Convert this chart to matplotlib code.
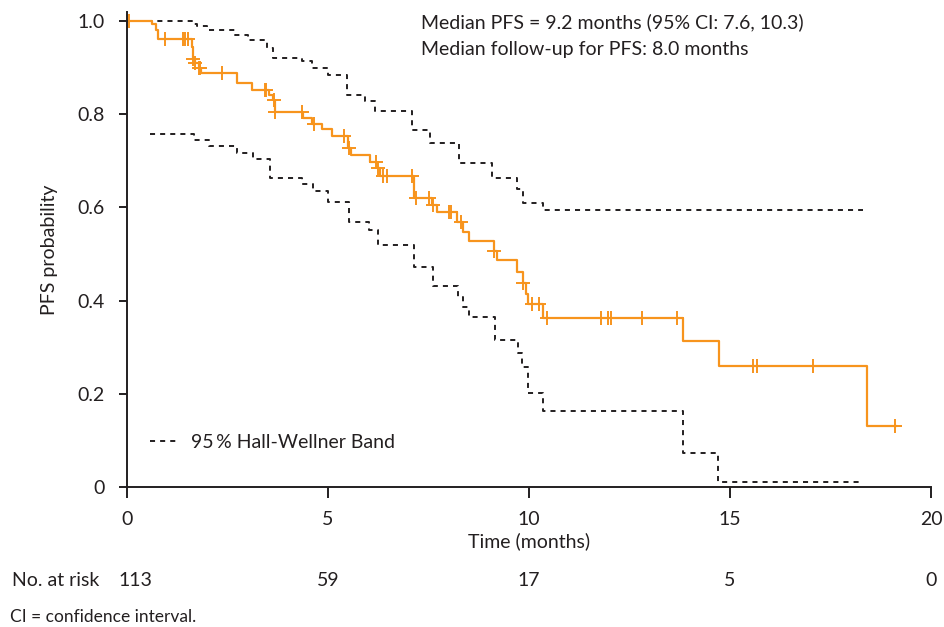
import numpy as np
import matplotlib
matplotlib.use("Agg")
import matplotlib.pyplot as plt
from matplotlib.lines import Line2D

plt.rcParams['font.family'] = ['Lato', 'DejaVu Sans']

# Kaplan-Meier step curve (time at which level starts, survival level)
km_t = [0.0, 0.62, 0.71, 0.76, 1.61, 1.64, 1.69, 1.78, 1.85, 2.73, 3.10, 3.54, 3.64, 3.68,
        4.39, 4.60, 4.85, 5.09, 5.49, 5.57, 6.04, 6.21, 6.29, 7.14, 7.58, 7.70, 8.22, 8.36,
        8.50, 9.13, 9.20, 9.69, 9.84, 9.93, 9.98, 10.36, 13.82, 14.73, 18.40]
km_s = [1.000, 0.993, 0.981, 0.962, 0.944, 0.918, 0.909, 0.899, 0.888, 0.866, 0.852, 0.841,
        0.830, 0.805, 0.792, 0.778, 0.767, 0.753, 0.727, 0.712, 0.698, 0.684, 0.667, 0.620,
        0.604, 0.589, 0.569, 0.546, 0.528, 0.506, 0.486, 0.462, 0.437, 0.415, 0.392, 0.362,
        0.313, 0.260, 0.131]
km_end = 19.12

# Censored observations (months)
cens_t = [0.05, 0.94, 1.40, 1.45, 1.51, 1.65, 1.70, 1.79, 1.82, 2.36, 3.43, 3.47, 3.66, 3.69,
          4.36, 4.64, 5.40, 5.53, 6.19, 6.25, 6.36, 6.46, 7.08, 7.18, 7.52, 7.60, 8.02, 8.05,
          8.31, 9.14, 9.86, 10.08, 10.25, 10.44, 11.79, 11.97, 12.04, 12.80, 13.67, 15.58,
          15.66, 17.07, 19.10]

# 95% Hall-Wellner band
up_t = [0.0, 1.61, 1.74, 2.00, 2.69, 3.02, 3.48, 3.64, 4.35, 4.60, 5.00, 5.47, 5.92, 6.17,
        7.08, 7.54, 8.25, 9.07, 9.69, 9.85, 10.36]
up_s = [1.000, 0.993, 0.988, 0.981, 0.970, 0.959, 0.941, 0.920, 0.913, 0.899, 0.884, 0.841,
        0.827, 0.807, 0.766, 0.737, 0.694, 0.663, 0.640, 0.609, 0.594]
lo_t = [0.57, 1.67, 2.05, 2.73, 3.14, 3.56, 4.35, 4.62, 5.00, 5.52, 6.03, 6.25, 7.14, 7.60,
        8.24, 8.37, 8.50, 9.15, 9.72, 9.83, 9.98, 10.36, 13.82, 14.71]
lo_s = [0.757, 0.745, 0.732, 0.716, 0.703, 0.662, 0.650, 0.636, 0.611, 0.568, 0.552, 0.519,
        0.473, 0.432, 0.408, 0.387, 0.364, 0.315, 0.287, 0.258, 0.201, 0.164, 0.072, 0.011]
band_end = 18.3

risk_t = [0, 5, 10, 15, 20]
risk_n = ['113', '59', '17', '5', '0']

xticks = [0, 5, 10, 15, 20]
yticks = [0, 0.2, 0.4, 0.6, 0.8, 1.0]
ytick_labels = ['0', '0.2', '0.4', '0.6', '0.8', '1.0']

orange = '#F7941D'
dark = '#231F20'
fs = 14

fig = plt.figure(figsize=(9.44, 6.27), dpi=100)
ax = fig.add_axes([127/944, 1 - 487/627, 804/944, 475/627])

dash = (0, (2.6, 2.6))
ax.step(up_t + [band_end], up_s + [up_s[-1]], where='post', color=dark, lw=1.4, linestyle=dash)
ax.step(lo_t + [band_end], lo_s + [lo_s[-1]], where='post', color=dark, lw=1.4, linestyle=dash)

ax.step(km_t + [km_end], km_s + [km_s[-1]], where='post', color=orange, lw=1.6)
km_t_arr = np.array(km_t)
km_s_arr = np.array(km_s)
idx = np.searchsorted(km_t_arr, np.array(cens_t), side='right') - 1
ax.plot(cens_t, km_s_arr[idx], linestyle='none', marker='+', color=orange,
        markersize=10, mew=1.4)

ax.set_xlim(0, 20)
ax.set_ylim(0, 1.019)
ax.set_xticks(xticks)
ax.set_xticklabels([str(v) for v in xticks])
ax.set_yticks(yticks)
ax.set_yticklabels(ytick_labels)
for s in ['top', 'right']:
    ax.spines[s].set_visible(False)
for s in ['left', 'bottom']:
    ax.spines[s].set_color(dark)
    ax.spines[s].set_linewidth(1.4)
ax.tick_params(axis='x', direction='out', length=8, width=1.4, color=dark,
               labelsize=fs, labelcolor=dark, pad=9)
ax.tick_params(axis='y', direction='out', length=6, width=1.4, color=dark,
               labelsize=fs, labelcolor=dark, pad=10)
ax.set_xlabel('Time (months)', fontsize=fs, color=dark, labelpad=3)
ax.set_ylabel('PFS probability', fontsize=fs, color=dark, labelpad=14)

handle = Line2D([], [], color=dark, lw=1.4, linestyle=dash)
ax.legend([handle], ['95\u2009% Hall-Wellner Band'], loc='center left',
          bbox_to_anchor=(0.0286, 0.0947), frameon=False, fontsize=fs,
          handlelength=1.45, handletextpad=0.65, borderpad=0, borderaxespad=0,
          labelcolor=dark)

fig.text(421/944, 1 - 22/627, 'Median PFS = 9.2 months (95% CI: 7.6, 10.3)',
         fontsize=fs, color=dark, ha='left', va='center')
fig.text(421/944, 1 - 49/627, 'Median follow-up for PFS: 8.0 months',
         fontsize=fs, color=dark, ha='left', va='center')

tr = matplotlib.transforms.blended_transform_factory(ax.transData, fig.transFigure)
fig.text(12/944, 1 - 580/627, 'No. at risk', fontsize=fs, color=dark, ha='left', va='center')
for t, n in zip(risk_t, risk_n):
    ax.text(t + (0.2 if n == '113' else 0), 1 - 580/627, n, transform=tr, fontsize=fs,
            color=dark, ha='center', va='center')

fig.text(10/944, 1 - 617/627, 'CI = confidence interval.', fontsize=12.5, color=dark,
         ha='left', va='center')

fig.savefig('out.png', dpi=100)
